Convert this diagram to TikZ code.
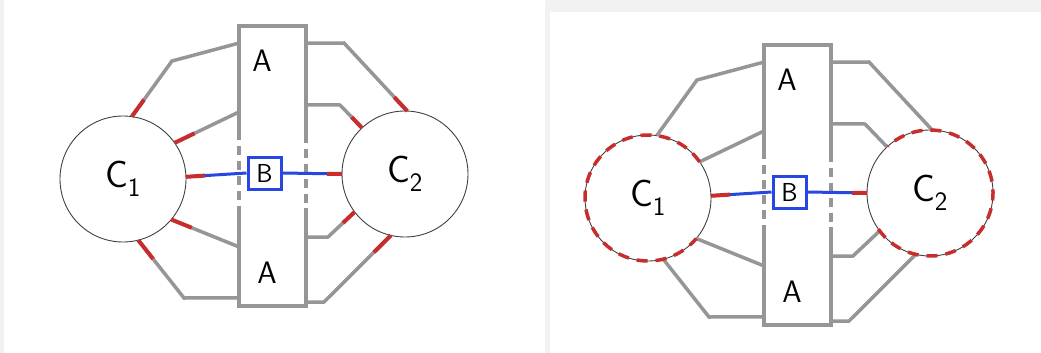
\documentclass[tikz,border=0pt]{standalone}
\usepackage{xcolor}
\usepackage{tikz}
\usetikzlibrary{calc,positioning}
\definecolor{cgray}{RGB}{150,150,150}
\definecolor{cred}{RGB}{200,45,45}
\definecolor{cblue}{RGB}{40,70,225}
\definecolor{cbg}{RGB}{242,242,242}
\tikzset{
  part/.style={circle, draw=black!75, line width=0.9pt, minimum size=126pt, inner sep=0pt, outer sep=0pt, font=\sffamily\fontsize{38}{38}\selectfont},
  bar/.style={minimum width=67pt, minimum height=280pt, inner sep=0pt, outer sep=0pt},
  barline/.style={cgray, line width=3.5pt},
  wire/.style={cgray, line width=3.5pt},
  bond/.style={cblue, line width=3pt},
  tip/.style={cred, line width=4pt},
  rim/.style={cred, line width=3.5pt, dash pattern=on 11pt off 8pt},
  sbox/.style={draw=cblue, line width=3pt, minimum width=33pt, minimum height=32pt, inner sep=0pt, font=\sffamily\fontsize{26}{26}\selectfont},
  lbl/.style={font=\sffamily\fontsize{31}{31}\selectfont}
}

\begin{document}
\begin{tikzpicture}[x=1pt, y=-1pt]
    \useasboundingbox (0,0) rectangle (1041,353);
    \fill[cbg] (0,0) rectangle (1041,353);
    \fill[white] (4,0) rectangle (545,353);
    \fill[white] (550,12) rectangle (1041,353);

    % the same layout twice, the second one shifted
    \foreach \p/\dx/\dy in {L/0/0, R/525/19} {
    \begin{scope}[shift={(\dx,\dy)}]
        \node[bar] (bar\p) at (272.5,166) {};
        \node[lbl] (atop\p) at (262,61) {A};
        \node[lbl] (abot\p) at (267,273) {A};
        \node[sbox] (b\p) at (264.5,173) {B};
        \node[part] (c1\p) at (123,179) {C\textsubscript{1}};
        \node[part] (c2\p) at (405,174) {C\textsubscript{2}};

        % outline of the bar, dashed beside B
        \coordinate (lt\p) at ($(bar\p.north west)!0.39!(bar\p.south west)$);
        \coordinate (lb\p) at ($(bar\p.north west)!0.65!(bar\p.south west)$);
        \coordinate (rt\p) at ($(bar\p.north east)!0.40!(bar\p.south east)$);
        \coordinate (rb\p) at ($(bar\p.north east)!0.65!(bar\p.south east)$);
        \draw[barline] (lt\p) -- (bar\p.north west) -- (bar\p.north east) -- (rt\p);
        \draw[barline] (lb\p) -- (bar\p.south west) -- (bar\p.south east) -- (rb\p);
        \draw[barline, dash pattern=on 9pt off 6pt, dash phase=4pt] (lt\p) -- (lb\p);
        \draw[barline, dash pattern=on 9pt off 6pt, dash phase=4pt] (rt\p) -- (rb\p);

        % end points on the bar and bends
        \coordinate (l1\p) at ($(bar\p.north west)!0.061!(bar\p.south west)$);
        \coordinate (l2\p) at ($(bar\p.north west)!0.307!(bar\p.south west)$);
        \coordinate (l4\p) at ($(bar\p.north west)!0.789!(bar\p.south west)$);
        \coordinate (l5\p) at ($(bar\p.north west)!0.971!(bar\p.south west)$);
        \coordinate (r1\p) at ($(bar\p.north east)!0.061!(bar\p.south east)$);
        \coordinate (r2\p) at ($(bar\p.north east)!0.282!(bar\p.south east)$);
        \coordinate (r4\p) at ($(bar\p.north east)!0.754!(bar\p.south east)$);
        \coordinate (r5\p) at ($(bar\p.north east)!0.986!(bar\p.south east)$);
        \coordinate (k1\p) at (172,61);
        \coordinate (k5\p) at (184,298);
        \coordinate (k6\p) at (344,43);
        \coordinate (k7\p) at (340,105);
        \coordinate (k9\p) at (328,237);
        \coordinate (k10\p) at (324,302);

        \draw[wire] (l1\p) -- (k1\p) -- (c1\p.82);
        \draw[wire] (l2\p) -- (c1\p.35);
        \draw[wire] (l4\p) -- (c1\p.-40);
        \draw[wire] (l5\p) -- (k5\p) -- (c1\p.-76);
        \draw[wire] (r1\p) -- (k6\p) -- (c2\p.88);
        \draw[wire] (r2\p) -- (k7\p) -- (c2\p.133);
        \draw[wire] (r4\p) -- (k9\p) -- (c2\p.217);
        \draw[wire] (r5\p) -- (k10\p) -- (c2\p.257);

        \draw[bond] (c1\p.2) -- (b\p.west);
        \draw[bond] (b\p.east) -- (c2\p.180);
        \draw[tip] (c1\p.2) -- ($(c1\p.2)!19pt!(b\p.west)$);
        \draw[tip] (c2\p.180) -- ($(c2\p.180)!15pt!(b\p.east)$);
    \end{scope}
    }

    % left: red ends of the wires
    \draw[tip] (c1L.82) -- ($(c1L.82)!21pt!(k1L)$);
    \draw[tip] (c1L.35) -- ($(c1L.35)!22pt!(l2L)$);
    \draw[tip] (c1L.-40) -- ($(c1L.-40)!22pt!(l4L)$);
    \draw[tip] (c1L.-76) -- ($(c1L.-76)!24pt!(k5L)$);
    \draw[tip] (c2L.88) -- ($(c2L.88)!19pt!(k6L)$);
    \draw[tip] (c2L.133) -- ($(c2L.133)!15pt!(k7L)$);
    \draw[tip] (c2L.217) -- ($(c2L.217)!16pt!(k9L)$);
    \draw[tip] (c2L.257) -- ($(c2L.257)!24pt!(k10L)$);

    % right: red dashed rims
    \draw[rim] (c1R.35) arc[start angle=35, end angle=320, radius=63pt];
    \draw[rim] (c2R.-145) arc[start angle=-145, end angle=132, radius=63pt];
\end{tikzpicture}
\end{document}
